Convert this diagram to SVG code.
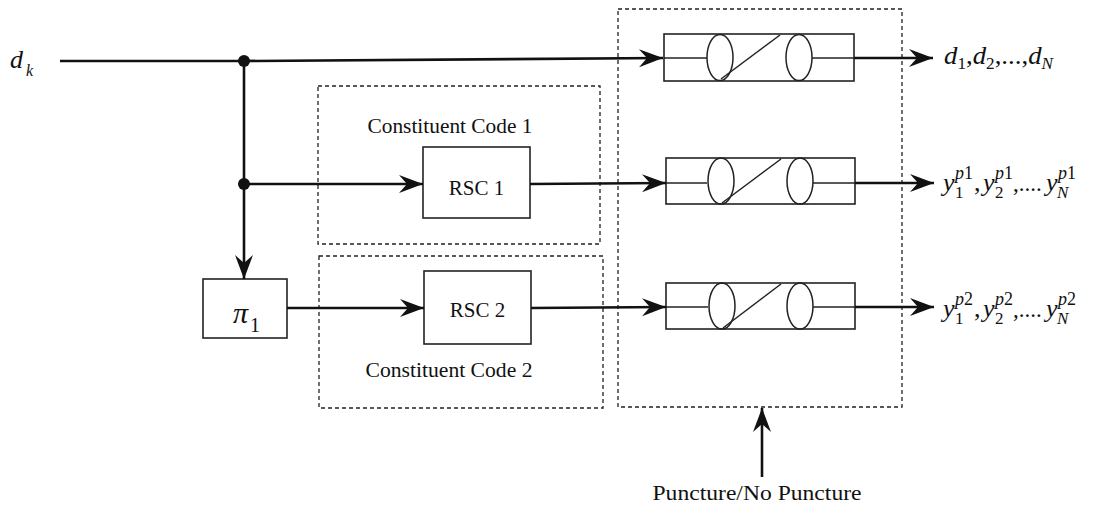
<svg xmlns="http://www.w3.org/2000/svg" width="1093" height="510" viewBox="0 0 1093 510">
<style>
.lbl{font-family:"Liberation Serif","Times New Roman",serif;fill:#111}
.it{font-style:italic}
.box{fill:none;stroke:#222;stroke-width:1.6}
.dash{fill:none;stroke:#222;stroke-width:1.3;stroke-dasharray:4 3}
.wire{fill:none;stroke:#111;stroke-width:2.6}
.thin{fill:none;stroke:#222;stroke-width:1.5}
.big{font-size:26px}
.sup{font-size:18px}
.sub{font-size:17px}
</style>
<defs>
<marker id="arr" markerUnits="userSpaceOnUse" markerWidth="28" markerHeight="22" viewBox="-26 -11 28 22" refX="0" refY="0" orient="auto">
<path d="M0,0 L-24,-9 L-16,0 L-24,9 Z" fill="#111"/>
</marker>
</defs>
<rect width="1093" height="510" fill="#fff"/>

<g id="labels-in">
<text class="lbl it" x="10" y="68" font-size="26">d</text>
<text class="lbl it" x="26" y="76" font-size="16">k</text>
</g>

<g id="cc1">
<rect class="dash" x="318" y="86" width="282" height="158"/>
<text class="lbl" x="450" y="133" font-size="20" text-anchor="middle" textLength="165" lengthAdjust="spacingAndGlyphs">Constituent Code 1</text>
</g>
<g id="cc2">
<rect class="dash" x="319" y="256" width="284" height="152"/>
<text class="lbl" x="449" y="377" font-size="20" text-anchor="middle" textLength="167" lengthAdjust="spacingAndGlyphs">Constituent Code 2</text>
</g>
<g id="puncture-box">
<rect class="dash" x="618" y="9" width="284" height="398"/>
</g>

<g id="rsc1">
<rect class="box" x="423" y="147" width="107" height="71"/>
<text class="lbl" x="476.5" y="195" font-size="21" text-anchor="middle">RSC 1</text>
</g>
<g id="rsc2">
<rect class="box" x="424" y="271" width="107" height="73"/>
<text class="lbl" x="477.5" y="317" font-size="21" text-anchor="middle">RSC 2</text>
</g>
<g id="interleaver">
<rect class="box" x="203" y="279" width="84" height="59"/>
<text class="lbl it" x="233" y="323" font-size="30">π</text>
<text class="lbl" x="250" y="332" font-size="20">1</text>
</g>

<g id="switch1">
<rect class="box" x="664" y="34" width="190" height="47"/>
<line class="thin" x1="664" y1="58" x2="707" y2="58"/>
<ellipse class="thin" cx="720" cy="57.5" rx="13" ry="23"/>
<line class="thin" x1="721" y1="79" x2="780" y2="35"/>
<ellipse class="thin" cx="799" cy="57.5" rx="13" ry="23"/>
<line class="thin" x1="812" y1="58" x2="854" y2="58"/>
</g>
<g id="switch2">
<rect class="box" x="666" y="158" width="189" height="46"/>
<line class="thin" x1="666" y1="183" x2="707" y2="183"/>
<ellipse class="thin" cx="721" cy="181" rx="13" ry="23"/>
<line class="thin" x1="722" y1="203" x2="781" y2="159"/>
<ellipse class="thin" cx="800" cy="181" rx="13" ry="23"/>
<line class="thin" x1="813" y1="183" x2="855" y2="183"/>
</g>
<g id="switch3">
<rect class="box" x="666" y="283" width="189" height="46"/>
<line class="thin" x1="666" y1="307" x2="708" y2="307"/>
<ellipse class="thin" cx="722" cy="306" rx="13" ry="23"/>
<line class="thin" x1="723" y1="328" x2="781" y2="284"/>
<ellipse class="thin" cx="800" cy="306" rx="13" ry="23"/>
<line class="thin" x1="813" y1="307" x2="855" y2="307"/>
</g>

<g id="outputs">
<text class="lbl it" x="944" y="64" font-size="25" textLength="109" lengthAdjust="spacingAndGlyphs">d<tspan font-style="normal" font-size="16" dy="5">1</tspan><tspan font-style="normal" dy="-5">,</tspan>d<tspan font-style="normal" font-size="16" dy="5">2</tspan><tspan font-style="normal" dy="-5">,...,</tspan>d<tspan font-size="16" dy="5">N</tspan></text>

<text class="lbl it big" x="943" y="191">y</text>
<text class="lbl sup" x="955" y="179"><tspan font-style="italic">p</tspan>1</text>
<text class="lbl sub" x="955" y="198">1</text>
<text class="lbl big" x="974" y="191">,</text>
<text class="lbl it big" x="983" y="191">y</text>
<text class="lbl sup" x="995" y="179"><tspan font-style="italic">p</tspan>1</text>
<text class="lbl sub" x="995" y="198">2</text>
<text class="lbl" font-size="23" x="1013" y="191">,....</text>
<text class="lbl it big" x="1046" y="191">y</text>
<text class="lbl sup" x="1058" y="179"><tspan font-style="italic">p</tspan>1</text>
<text class="lbl it sub" x="1057" y="198">N</text>

<text class="lbl it big" x="943" y="317">y</text>
<text class="lbl sup" x="955" y="305"><tspan font-style="italic">p</tspan>2</text>
<text class="lbl sub" x="955" y="324">1</text>
<text class="lbl big" x="974" y="317">,</text>
<text class="lbl it big" x="983" y="317">y</text>
<text class="lbl sup" x="995" y="305"><tspan font-style="italic">p</tspan>2</text>
<text class="lbl sub" x="995" y="324">2</text>
<text class="lbl" font-size="23" x="1013" y="317">,....</text>
<text class="lbl it big" x="1046" y="317">y</text>
<text class="lbl sup" x="1058" y="305"><tspan font-style="italic">p</tspan>2</text>
<text class="lbl it sub" x="1057" y="324">N</text>
</g>

<g id="control">
<text class="lbl" x="757" y="500" font-size="22" text-anchor="middle" textLength="209" lengthAdjust="spacingAndGlyphs">Puncture/No Puncture</text>
</g>

<g id="connectors">
<line class="wire" x1="60" y1="61" x2="244" y2="61"/>
<line class="wire" x1="244" y1="61" x2="663" y2="58" marker-end="url(#arr)"/>
<line class="wire" x1="244" y1="61" x2="244" y2="279" marker-end="url(#arr)"/>
<line class="wire" x1="244" y1="184" x2="423" y2="184" marker-end="url(#arr)"/>
<line class="wire" x1="287" y1="308" x2="424" y2="308" marker-end="url(#arr)"/>
<line class="wire" x1="530" y1="184" x2="666" y2="183" marker-end="url(#arr)"/>
<line class="wire" x1="531" y1="308" x2="666" y2="307" marker-end="url(#arr)"/>
<line class="wire" x1="854" y1="58" x2="933" y2="58" marker-end="url(#arr)"/>
<line class="wire" x1="855" y1="183" x2="934" y2="183" marker-end="url(#arr)"/>
<line class="wire" x1="855" y1="307" x2="934" y2="307" marker-end="url(#arr)"/>
<line class="wire" x1="762" y1="477" x2="762" y2="408" stroke-width="2" marker-end="url(#arr)"/>
<circle cx="244" cy="61" r="6" fill="#111"/>
<circle cx="244" cy="184" r="6" fill="#111"/>
</g>
</svg>
